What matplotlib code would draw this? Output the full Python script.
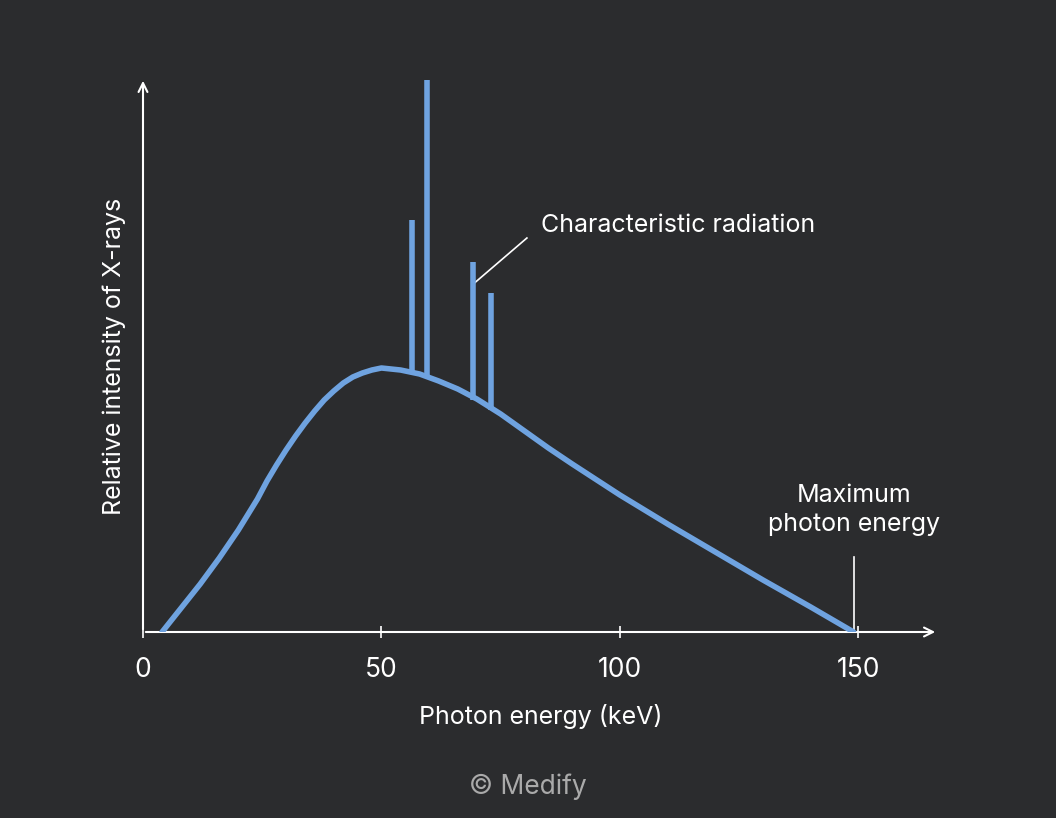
import matplotlib.pyplot as plt

bg = '#2b2c2e'
blue = '#6fa3e0'
fg = 'white'
plt.rcParams['font.family'] = ['Inter', 'DejaVu Sans']

# spectrum (keV, relative intensity)
energy = [4, 8, 12, 16, 20, 24, 26, 28, 30, 32, 34, 36, 38, 40, 42, 44, 46, 48, 50, 52, 54, 56,
          58, 62, 66, 70, 75, 80, 85, 90, 100, 110, 120, 130, 140, 149]
intensity = [0, 24, 48, 74, 102, 133, 151, 167, 182, 196, 209, 221, 232, 241, 249, 255, 259, 262,
             264, 263, 262, 260, 258, 251, 243, 233, 218, 201, 184, 168, 137, 108, 80, 52, 25, 0]
# characteristic lines (keV, top)
line_e = [56.5, 59.5, 69.2, 73]
line_top = [412, 552, 370, 339]
line_base = [260, 256, 232, 222]

fig = plt.figure(figsize=(10.56, 8.18), dpi=100, facecolor=bg)
ax = fig.add_axes([143 / 1056, (818 - 632) / 818, (938 - 143) / 1056, (632 - 80) / 818])
ax.set_facecolor(bg)
ax.set_xlim(0, 166.7)
ax.set_ylim(0, 552)
for s in ax.spines.values():
    s.set_visible(False)
ax.set_yticks([])
ax.set_xticks([0, 50, 100, 150])
ax.tick_params(axis='x', length=8, width=1.2, color=fg, labelcolor=fg, labelsize=19, pad=14, direction='inout')

arrow = dict(arrowstyle='->', color=fg, lw=1.5, mutation_scale=16)
ax.annotate('', xy=(166.7, 0), xytext=(0, 0), arrowprops=arrow, annotation_clip=False)
ax.annotate('', xy=(0, 554), xytext=(0, 0), arrowprops=arrow, annotation_clip=False)

ax.plot(energy, intensity, color=blue, lw=4, solid_capstyle='round', solid_joinstyle='round', zorder=3)
ax.vlines(line_e, line_base, line_top, color=blue, lw=4, zorder=3)

ax.plot([149, 149], [0, 75], color=fg, lw=1.2)
ax.text(149, 122, 'Maximum\nphoton energy', color=fg, fontsize=18, ha='center', va='center', linespacing=1.3)
ax.plot([69.5, 80.5], [349, 394], color=fg, lw=1.2)
ax.text(83.5, 406, 'Characteristic radiation', color=fg, fontsize=18, va='center')

ax.set_xlabel('Photon energy (keV)', color=fg, fontsize=18)
ax.set_ylabel('Relative intensity of X-rays', color=fg, fontsize=18)
ax.xaxis.set_label_coords(0.5, -0.13)
ax.yaxis.set_label_coords(-0.022, 0.5)
fig.text(0.5, 1 - 787 / 818, '© Medify', color='#aaaaaa', fontsize=19, ha='center', va='center')

fig.savefig('out.png', dpi=100, facecolor=bg)
